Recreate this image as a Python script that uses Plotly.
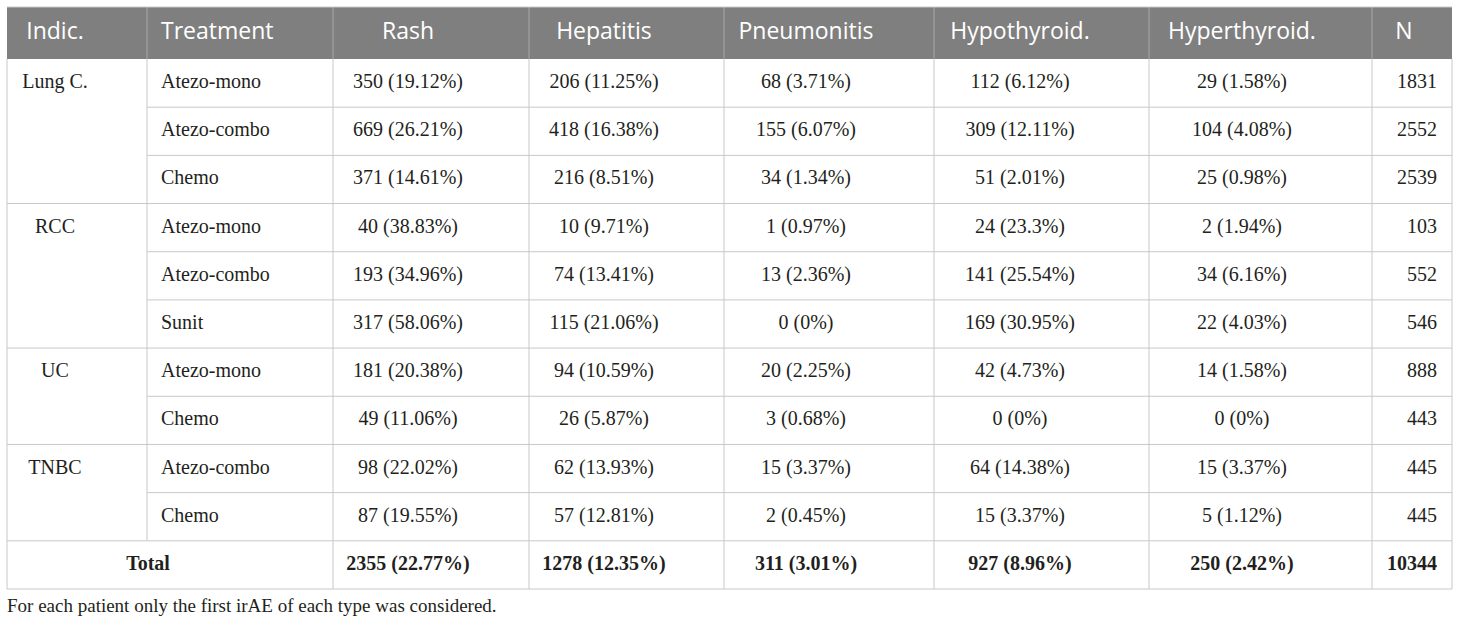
#!/usr/bin/env python3
"""irAE counts per indication and treatment, drawn as a table on a pixel canvas."""
import plotly.graph_objects as go

# ---- data ------------------------------------------------------------------
header_labels = ["Indic.", "Treatment", "Rash", "Hepatitis", "Pneumonitis",
                 "Hypothyroid.", "Hyperthyroid.", "N"]

row_indic = ["Lung C.", "Lung C.", "Lung C.", "RCC", "RCC", "RCC",
             "UC", "UC", "TNBC", "TNBC"]
treatments = ["Atezo-mono", "Atezo-combo", "Chemo", "Atezo-mono", "Atezo-combo",
              "Sunit", "Atezo-mono", "Chemo", "Atezo-combo", "Chemo"]

rash_n = [350, 669, 371, 40, 193, 317, 181, 49, 98, 87]
rash_pct = [19.12, 26.21, 14.61, 38.83, 34.96, 58.06, 20.38, 11.06, 22.02, 19.55]
hepatitis_n = [206, 418, 216, 10, 74, 115, 94, 26, 62, 57]
hepatitis_pct = [11.25, 16.38, 8.51, 9.71, 13.41, 21.06, 10.59, 5.87, 13.93, 12.81]
pneumonitis_n = [68, 155, 34, 1, 13, 0, 20, 3, 15, 2]
pneumonitis_pct = [3.71, 6.07, 1.34, 0.97, 2.36, 0, 2.25, 0.68, 3.37, 0.45]
hypothyroid_n = [112, 309, 51, 24, 141, 169, 42, 0, 64, 15]
hypothyroid_pct = [6.12, 12.11, 2.01, 23.3, 25.54, 30.95, 4.73, 0, 14.38, 3.37]
hyperthyroid_n = [29, 104, 25, 2, 34, 22, 14, 0, 15, 5]
hyperthyroid_pct = [1.58, 4.08, 0.98, 1.94, 6.16, 4.03, 1.58, 0, 3.37, 1.12]
n_patients = [1831, 2552, 2539, 103, 552, 546, 888, 443, 445, 445]

total_label = "Total"
total_n = [2355, 1278, 311, 927, 250]
total_pct = [22.77, 12.35, 3.01, 8.96, 2.42]
total_patients = 10344

footnote = "For each patient only the first irAE of each type was considered."

# ---- layout (pixel canvas) -------------------------------------------------
W, H = 1460, 628
col_edges = [7, 147, 333, 529, 724, 934, 1149, 1372, 1452]
text_x = [55, 161, 408, 604, 806, 1020, 1242, 1437]
header_x_n = 1404
top, head_bottom, bottom = 7, 59, 589

header_bg = "#7F7F7F"
header_sep = "#A9A9A9"
grid = "#C8C8C8"
ink = "#231F20"
serif = "Liberation Serif, Times New Roman, serif"
sans = "Open Sans, Noto Sans, sans-serif"

n_rows = len(treatments) + 1
row_h = (bottom - head_bottom) / n_rows


def row_mid(i):
    return head_bottom + row_h * (i + 0.5)


def row_top(i):
    return head_bottom + row_h * i


def cell(n, p):
    return f"{n} ({p:g}%)"


shapes = [
    dict(type="rect", x0=col_edges[0], x1=col_edges[-1], y0=top, y1=head_bottom,
         fillcolor=header_bg, line=dict(width=0), layer="below"),
]
for xe in col_edges[1:-1]:
    shapes.append(dict(type="line", x0=xe, x1=xe, y0=top, y1=head_bottom,
                       line=dict(color=header_sep, width=1)))

# horizontal rules in the body
for i in range(1, n_rows):
    start = col_edges[0]
    if i < len(treatments) and row_indic[i] == row_indic[i - 1]:
        start = col_edges[1]
    y = row_top(i)
    shapes.append(dict(type="line", x0=start, x1=col_edges[-1], y0=y, y1=y,
                       line=dict(color=grid, width=1)))

# vertical rules in the body
for k, xe in enumerate(col_edges):
    y1 = bottom
    if k == 1:
        y1 = row_top(len(treatments))
    shapes.append(dict(type="line", x0=xe, x1=xe, y0=head_bottom, y1=y1,
                       line=dict(color=grid, width=1)))
shapes.append(dict(type="line", x0=col_edges[0], x1=col_edges[-1], y0=bottom, y1=bottom,
                   line=dict(color=grid, width=1)))
shapes.append(dict(type="line", x0=col_edges[0], x1=col_edges[-1], y0=top, y1=top,
                   line=dict(color=grid, width=1)))

fig = go.Figure()


def add_text(xs, ys, texts, pos, font):
    fig.add_trace(go.Scatter(x=xs, y=ys, text=texts, mode="text", textposition=pos,
                             textfont=font, hoverinfo="skip", showlegend=False,
                             cliponaxis=False))


head_font = dict(family=sans, size=23, color="white")
body_font = dict(family=serif, size=20, color=ink)
bold_font = dict(family=serif, size=20, color=ink, weight="bold")

# header
head_y = (top + head_bottom) / 2
add_text([text_x[0]], [head_y], [header_labels[0]], "middle center", head_font)
add_text([text_x[1]], [head_y], [header_labels[1]], "middle right", head_font)
add_text(text_x[2:7], [head_y] * 5, header_labels[2:7], "middle center", head_font)
add_text([header_x_n], [head_y], [header_labels[7]], "middle center", head_font)

# indication (first row of each group)
first_rows = [i for i in range(len(row_indic)) if i == 0 or row_indic[i] != row_indic[i - 1]]
add_text([text_x[0]] * len(first_rows), [row_mid(i) for i in first_rows],
         [row_indic[i] for i in first_rows], "middle center", body_font)

rows_y = [row_mid(i) for i in range(len(treatments))]
add_text([text_x[1]] * len(treatments), rows_y, treatments, "middle right", body_font)

series = [(rash_n, rash_pct), (hepatitis_n, hepatitis_pct),
          (pneumonitis_n, pneumonitis_pct), (hypothyroid_n, hypothyroid_pct),
          (hyperthyroid_n, hyperthyroid_pct)]
for k, (ns, ps) in enumerate(series):
    add_text([text_x[2 + k]] * len(ns), rows_y, [cell(n, p) for n, p in zip(ns, ps)],
             "middle center", body_font)
add_text([text_x[7]] * len(n_patients), rows_y, [str(v) for v in n_patients],
         "middle left", body_font)

# total row
ty = row_mid(len(treatments))
add_text([(col_edges[0] + col_edges[2]) / 2 - 22], [ty], [total_label], "middle center", bold_font)
add_text(text_x[2:7], [ty] * 5, [cell(n, p) for n, p in zip(total_n, total_pct)],
         "middle center", bold_font)
add_text([text_x[7]], [ty], [str(total_patients)], "middle left", bold_font)

# footnote
add_text([col_edges[0]], [607], [footnote], "middle right",
         dict(family=serif, size=19, color=ink))

fig.update_layout(
    width=W,
    height=H,
    margin=dict(l=0, r=0, t=0, b=0),
    paper_bgcolor="white",
    plot_bgcolor="white",
    shapes=shapes,
    hovermode=False,
    xaxis=dict(range=[0, W], visible=False, fixedrange=True),
    yaxis=dict(range=[H, 0], visible=False, fixedrange=True),
)

# the browser's default 8px body margin would push the canvas off the window
fig.write_html("out.html", config={"displayModeBar": False},
               post_script="document.body.style.margin='0px';")
